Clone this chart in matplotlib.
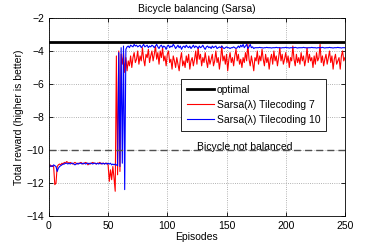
import numpy as np
import matplotlib
matplotlib.use("Agg")
import matplotlib.pyplot as plt

plt.rcParams['font.family'] = ['Liberation Sans', 'DejaVu Sans']

# reward per episode
red_vals = [
    -10.9, -11.0, -10.95, -11.0, -12.1, -12.0, -11.0, -10.9, -10.85, -10.9,
    -10.8, -10.85, -10.75, -10.8, -10.7, -10.75, -10.8, -10.75, -10.8, -10.85,
    -10.8, -10.75, -10.8, -10.85, -10.8, -10.8, -10.75, -10.8, -10.85, -10.8,
    -10.75, -10.8, -10.9, -10.8, -10.85, -10.8, -10.75, -10.8, -10.8, -10.85,
    -10.8, -10.8, -10.75, -10.85, -10.8, -10.8, -10.85, -10.8, -10.8, -10.9,
    -11.9, -11.2, -11.8, -11.0, -11.7, -12.5,
    -4.3, -11.5, -4.0, -11.3, -4.2, -4.8, -4.1, -5.3, -4.4,
    -5.2, -4.6, -4.9, -4.3, -5.0, -4.4, -4.1, -4.7, -4.5, -4.0,
    -4.8, -4.3, -4.6, -3.8, -4.5, -4.9, -4.2, -4.4, -3.9, -4.7,
    -4.3, -4.0, -4.6, -4.2, -3.7, -4.5, -4.1, -4.8, -4.0, -4.4,
    -3.8, -4.6, -4.3, -4.9, -4.2, -4.0, -4.7, -4.5, -5.1, -4.3,
    -4.6, -5.0, -4.4, -4.8, -5.2, -4.5, -4.1, -4.9, -4.6, -5.0,
    -4.3, -4.7, -4.2, -5.1, -4.6, -4.4, -4.9, -4.5, -4.0, -4.8,
    -3.8, -4.5, -4.2, -4.9, -4.4, -4.7, -4.1, -4.6, -5.0, -4.3,
    -4.8, -4.5, -4.2, -4.9, -4.6, -4.0, -4.7, -4.4, -5.1, -4.5,
    -3.7, -4.6, -4.3, -4.8, -4.2, -5.2, -4.5, -4.1, -4.7, -4.4,
    -4.9, -4.3, -3.9, -4.6, -4.2, -4.8, -4.5, -5.0, -4.4, -4.7,
    -4.1, -4.6, -3.6, -4.5, -4.9, -4.3, -4.7, -5.2, -4.4, -4.6,
    -4.0, -4.8, -4.3, -4.6, -3.9, -4.5, -4.9, -4.2, -4.7, -4.4,
    -5.1, -4.5, -4.2, -4.8, -4.0, -4.6, -4.3, -4.9, -4.4, -3.8,
    -4.6, -4.2, -4.8, -4.5, -4.1, -4.7, -4.3, -5.0, -4.4, -4.6,
    -3.7, -4.5, -4.9, -4.2, -4.7, -4.4, -4.8, -4.1, -4.6, -4.3,
    -4.9, -4.5, -3.8, -4.7, -4.2, -4.6, -4.4, -5.0, -4.3, -4.8,
    -4.1, -4.6, -4.4, -3.6, -4.7, -4.3, -4.9, -4.5, -4.2, -4.8,
    -4.4, -4.0, -4.7, -4.3, -5.1, -4.5, -4.2, -4.8, -4.6, -4.4,
    -5.1, -4.3, -4.0, -4.6, -4.4,
]

blue_vals = [
    -11.0, -10.95, -11.0, -10.9, -10.95, -11.0, -11.3, -11.1, -11.0, -10.95,
    -10.9, -10.85, -10.85, -10.8, -10.8, -10.85, -10.8, -10.85, -10.8, -10.8,
    -10.85, -10.9, -10.85, -10.8, -10.85, -10.8, -10.8, -10.85, -10.8, -10.8,
    -10.85, -10.8, -10.8, -10.85, -10.8, -10.8, -10.85, -10.8, -10.8, -10.85,
    -10.8, -10.85, -10.8, -10.8, -10.85, -10.8, -10.85, -10.8, -10.85, -10.8,
    -10.85, -10.8, -10.9, -10.85, -10.9, -10.85, -10.9, -10.95,
    -4.1, -11.0, -3.8, -10.8, -3.7, -12.4, -3.9,
    -3.75, -3.7, -3.8, -3.65, -3.7, -3.75, -3.6, -3.7, -3.65, -3.75,
    -3.7, -3.65, -3.8, -3.7, -3.6, -3.75, -3.7, -3.65, -3.8, -3.7,
    -3.75, -3.65, -3.7, -3.8, -3.7, -3.6, -3.75, -3.85, -3.7, -3.65,
    -3.8, -3.7, -3.75, -3.9, -3.7, -3.65, -3.8, -3.7, -3.75, -3.6,
    -3.7, -3.85, -3.75, -3.65, -3.8, -3.7, -3.9, -3.75, -3.7, -3.8,
    -3.65, -3.75, -3.8, -3.7, -3.85, -3.75, -3.65, -3.8, -3.7, -3.75,
    -3.85, -3.7, -3.8, -3.75, -3.65, -3.8, -3.9, -3.75, -3.7, -3.8,
    -3.75, -3.85, -3.7, -3.8, -3.75, -3.7, -3.85, -3.8, -3.75, -3.8,
    -3.7, -3.8, -3.85, -3.8, -3.75, -3.8, -3.8, -3.85, -3.8, -3.8,
    -3.75, -3.8, -3.85, -3.8, -3.7, -3.8, -3.65, -3.75, -3.6, -3.8,
    -3.7, -3.6, -3.85, -3.75, -3.6, -3.8, -3.75, -3.85, -3.8, -3.8,
    -3.8, -3.8, -3.78, -3.8, -3.8, -3.82, -3.8, -3.8, -3.78, -3.8,
    -3.8, -3.8, -3.82, -3.8, -3.8, -3.8, -3.78, -3.8, -3.8, -3.8,
    -3.82, -3.8, -3.8, -3.8, -3.78, -3.8, -3.8, -3.82, -3.8, -3.8,
    -3.8, -3.8, -3.78, -3.8, -3.82, -3.8, -3.8, -3.8, -3.8, -3.78,
    -3.8, -3.8, -3.82, -3.8, -3.8, -3.8, -3.78, -3.8, -3.8, -3.8,
    -3.82, -3.8, -3.8, -3.8, -3.8, -3.78, -3.8, -3.82, -3.8, -3.8,
    -3.8, -3.78, -3.8, -3.8, -3.82, -3.8, -3.8, -3.8, -3.78, -3.8,
    -3.8, -3.82, -3.8, -3.8, -3.8,
]

optimal = -3.45
not_balanced = -10
episodes = np.arange(1, len(red_vals) + 1)
episodes_b = np.arange(1, len(blue_vals) + 1)

fig = plt.figure(figsize=(3.82, 2.43), dpi=100)
ax = fig.add_axes([0.128, 0.111, 0.775, 0.815])

ax.axhline(optimal, color='black', lw=2, label='optimal', zorder=4)
ax.plot(episodes, red_vals, color='red', lw=0.8, label=u'Sarsa(\u03bb) Tilecoding 7')
ax.plot(episodes_b, blue_vals, color='blue', lw=0.8, label=u'Sarsa(\u03bb) Tilecoding 10')
ax.axhline(not_balanced, color='#505050', lw=1.0, dashes=(5, 3))
ax.text(165, -9.82, 'Bicycle not balanced', ha='center', va='center', fontsize=7.5)

ax.set_xlim(0, 250)
ax.set_ylim(-14, -2)
ax.set_xticks([0, 50, 100, 150, 200, 250])
ax.set_yticks([-14, -12, -10, -8, -6, -4, -2])
ax.tick_params(direction='in', top=True, right=True, labelsize=7.5, length=3, width=0.6)
ax.grid(True, linestyle=':', color='#999999', lw=0.6)
for s in ax.spines.values():
    s.set_linewidth(0.6)

ax.set_title('Bicycle balancing (Sarsa)', fontsize=7.5, pad=4)
ax.set_xlabel('Episodes', fontsize=7.5, labelpad=1)
ax.set_ylabel('Total reward (higher is better)', fontsize=7.5, labelpad=2)

leg = ax.legend(loc='upper right', bbox_to_anchor=(0.936, 0.692), borderaxespad=0,
                fontsize=7.5, fancybox=False, framealpha=1, edgecolor='black',
                handlelength=2.6, borderpad=0.55, labelspacing=0.5, handletextpad=0.25)
leg.get_frame().set_linewidth(0.6)

fig.savefig('out.png', dpi=100)
